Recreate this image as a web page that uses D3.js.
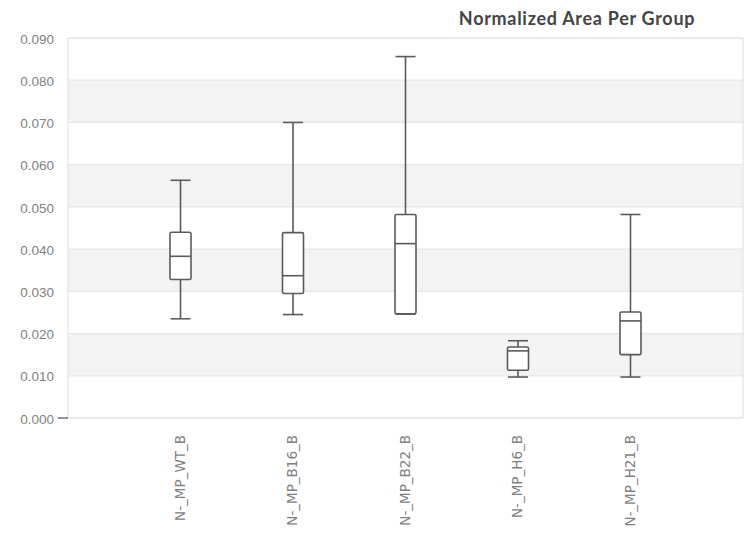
<!DOCTYPE html>
<html>
<head>
<meta charset="utf-8">
<script src="https://cdn.jsdelivr.net/npm/d3@7"></script>
<style>
  body { margin: 0; background: #fff; }
  svg { display: block; font-family: "DejaVu Sans", sans-serif; }
</style>
</head>
<body>
<script>
// Box plot of normalized area per group

const width = 745;
const height = 537;
const margin = { top: 38, right: 2, bottom: 119, left: 68 };

const groups = ["N-_MP_WT_B", "N-_MP_B16_B", "N-_MP_B22_B", "N-_MP_H6_B", "N-_MP_H21_B"];
const lows    = [0.0235, 0.0245, 0.0246, 0.0097, 0.0097];
const q1s     = [0.0328, 0.0295, 0.0247, 0.0113, 0.0150];
const medians = [0.0383, 0.0337, 0.0413, 0.0159, 0.0230];
const q3s     = [0.0440, 0.0439, 0.0482, 0.0168, 0.0251];
const highs   = [0.0563, 0.0700, 0.0856, 0.0183, 0.0482];
const yTicks  = [0, 0.01, 0.02, 0.03, 0.04, 0.05, 0.06, 0.07, 0.08, 0.09];

const svg = d3.select("body")
    .append("svg")
    .attr("width", width)
    .attr("height", height);

const x = d3.scalePoint()
    .domain(groups)
    .range([margin.left, width - margin.right])
    .padding(1);

const y = d3.scaleLinear()
    .domain([0, 0.09])
    .range([height - margin.bottom, margin.top]);

// alternating grey bands
svg.append("g")
    .selectAll("rect")
    .data(yTicks.slice(0, -1))
    .join("rect")
    .attr("x", margin.left)
    .attr("width", width - margin.right - margin.left)
    .attr("y", d => y(d + 0.01))
    .attr("height", d => y(d) - y(d + 0.01))
    .attr("fill", (d, i) => i % 2 === 1 ? "#f3f3f3" : "#fff");

// gridlines
svg.append("g")
    .selectAll("line")
    .data(yTicks)
    .join("line")
    .attr("x1", margin.left)
    .attr("x2", width - margin.right)
    .attr("y1", d => y(d))
    .attr("y2", d => y(d))
    .attr("stroke", "#e6e6e6")
    .attr("stroke-width", 1.2);

// plot frame
svg.append("rect")
    .attr("x", margin.left)
    .attr("y", margin.top)
    .attr("width", width - margin.right - margin.left)
    .attr("height", y(0) - margin.top)
    .attr("fill", "none")
    .attr("stroke", "#e3e3e3")
    .attr("stroke-width", 1.2);

// y axis labels
const yAxis = svg.append("g")
    .attr("transform", `translate(${margin.left},0)`)
    .call(d3.axisLeft(y).tickValues(yTicks).tickFormat(d3.format(".3f")).tickSize(0).tickPadding(14));
yAxis.select(".domain").remove();
yAxis.selectAll("text")
    .attr("fill", "#7f7f7f")
    .attr("dy", "0.38em")
    .style("font-size", "13.5px");

// little tick at zero
svg.append("line")
    .attr("x1", margin.left - 10)
    .attr("x2", margin.left)
    .attr("y1", y(0))
    .attr("y2", y(0))
    .attr("stroke", "#555")
    .attr("stroke-width", 1.3);

// x labels
svg.append("g")
    .selectAll("text")
    .data(groups)
    .join("text")
    .attr("transform", d => `translate(${x(d) + 4},${y(0) + 17}) rotate(-90)`)
    .attr("text-anchor", "end")
    .attr("fill", "#7f7f7f")
    .style("font-size", "13.5px")
    .text(d => d);

// boxes
const boxW = 21;
const capW = 20;
const stroke = "#5a5a5a";
const boxes = svg.append("g")
    .selectAll("g")
    .data(groups.map((g, i) => ({ g, lo: lows[i], q1: q1s[i], med: medians[i], q3: q3s[i], hi: highs[i] })))
    .join("g")
    .attr("stroke", stroke)
    .attr("stroke-width", 1.6)
    .attr("fill", "none");

boxes.append("line")
    .attr("x1", d => x(d.g)).attr("x2", d => x(d.g))
    .attr("y1", d => y(d.hi)).attr("y2", d => y(d.q3));
boxes.append("line")
    .attr("x1", d => x(d.g)).attr("x2", d => x(d.g))
    .attr("y1", d => y(d.q1)).attr("y2", d => y(d.lo));
boxes.append("line")
    .attr("x1", d => x(d.g) - capW / 2).attr("x2", d => x(d.g) + capW / 2)
    .attr("y1", d => y(d.hi)).attr("y2", d => y(d.hi));
boxes.append("line")
    .attr("x1", d => x(d.g) - capW / 2).attr("x2", d => x(d.g) + capW / 2)
    .attr("y1", d => y(d.lo)).attr("y2", d => y(d.lo));
boxes.append("rect")
    .attr("x", d => x(d.g) - boxW / 2)
    .attr("width", boxW)
    .attr("y", d => y(d.q3))
    .attr("height", d => y(d.q1) - y(d.q3))
    .attr("rx", 1.5)
    .attr("fill", "#fff");
boxes.append("line")
    .attr("x1", d => x(d.g) - boxW / 2).attr("x2", d => x(d.g) + boxW / 2)
    .attr("y1", d => y(d.med)).attr("y2", d => y(d.med));

// title
svg.append("text")
    .attr("x", 577)
    .attr("y", 25)
    .attr("text-anchor", "middle")
    .attr("fill", "#444")
    .style("font-size", "18px")
    .style("font-weight", "bold")
    .style("letter-spacing", "0.7px")
    .style("font-family", "Lato, sans-serif")
    .text("Normalized Area Per Group");
</script>
</body>
</html>
